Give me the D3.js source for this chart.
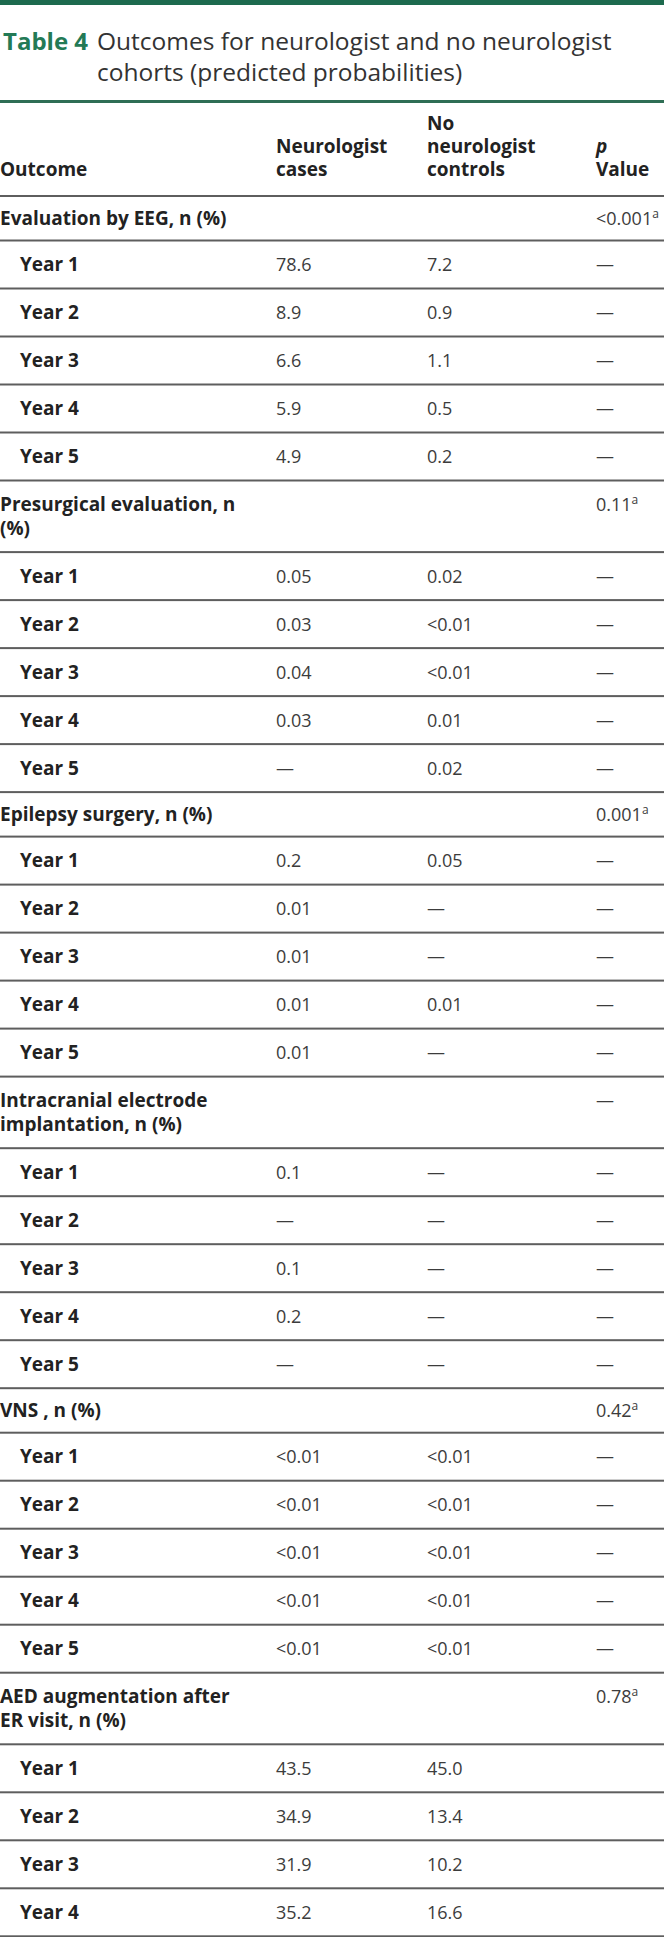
<!DOCTYPE html>
<html lang="en">
<head>
	<meta charset="utf-8">
	<title>Table 4</title>
	<script src="https://cdn.jsdelivr.net/npm/d3@7"></script>
	<style>
		body { margin: 0; background: #fff; }
		text { font-family: "Open Sans", sans-serif; }
		.head { font-weight: 700; fill: #222; font-size: 19px; }
		.cell { fill: #3c3c3c; font-size: 18px; }
		.rule { fill: #5e5e5e; }
	</style>
</head>
<body>
	<div id="chart"></div>
	<script>
		// table content
		var outcomeLabels = [
			["Evaluation by EEG, n (%)"],
			["Presurgical evaluation, n", "(%)"],
			["Epilepsy surgery, n (%)"],
			["Intracranial electrode", "implantation, n (%)"],
			["VNS , n (%)"],
			["AED augmentation after", "ER visit, n (%)"]
		];
		var outcomeP = ["<0.001", "0.11", "0.001", "—", "0.42", "0.78"];
		var outcomePNote = ["a", "a", "a", "", "a", "a"];
		var years = ["Year 1", "Year 2", "Year 3", "Year 4", "Year 5"];
		var neurologistCases = [
			["78.6", "8.9", "6.6", "5.9", "4.9"],
			["0.05", "0.03", "0.04", "0.03", "—"],
			["0.2", "0.01", "0.01", "0.01", "0.01"],
			["0.1", "—", "0.1", "0.2", "—"],
			["<0.01", "<0.01", "<0.01", "<0.01", "<0.01"],
			["43.5", "34.9", "31.9", "35.2"]
		];
		var noNeurologistControls = [
			["7.2", "0.9", "1.1", "0.5", "0.2"],
			["0.02", "<0.01", "<0.01", "0.01", "0.02"],
			["0.05", "—", "—", "0.01", "—"],
			["—", "—", "—", "—", "—"],
			["<0.01", "<0.01", "<0.01", "<0.01", "<0.01"],
			["45.0", "13.4", "10.2", "16.6"]
		];
		var yearP = ["—", "—", "—", "—", "—", ""];
		var headerLines = [
			["", "", "No", ""],
			["", "Neurologist", "neurologist", "p"],
			["Outcome", "cases", "controls", "Value"]
		];

		var width = 664,
		    height = 1937;

		var svg = d3.select("#chart")
				.append("svg")
				.attr("width", width)
				.attr("height", height);

		var x = d3.scaleOrdinal()
				.domain([0, 1, 2, 3])
				.range([0, 276, 427, 596]);

		// top bar + title
		svg.append("rect").attr("x", 0).attr("y", 0).attr("width", width).attr("height", 5).attr("fill", "#1d6a4e");

		svg.append("text")
			.attr("x", 3).attr("y", 50)
			.attr("font-size", 24).attr("font-weight", 700).attr("fill", "#237a56")
			.text("Table 4");
		svg.selectAll(".title")
			.data(["Outcomes for neurologist and no neurologist", "cohorts (predicted probabilities)"])
			.enter().append("text")
			.attr("x", 97)
			.attr("y", function(d, i) { return 50 + i * 31; })
			.attr("font-size", 24.5).attr("fill", "#333")
			.text(function(d) { return d; });

		svg.append("rect").attr("x", 0).attr("y", 100).attr("width", width).attr("height", 3).attr("fill", "#2f6e55");

		// column headers
		headerLines.forEach(function(line, i) {
			svg.selectAll(null)
				.data(line)
				.enter().append("text")
				.attr("class", "head")
				.attr("x", function(d, j) { return x(j); })
				.attr("y", 130 + i * 22.8)
				.attr("font-style", function(d) { return d == "p" ? "italic" : null; })
				.text(function(d) { return d; });
		});

		// flatten rows
		var rows = [];
		outcomeLabels.forEach(function(label, g) {
			rows.push({type: "group", label: label, cells: ["", ""], p: outcomeP[g], note: outcomePNote[g],
				h: label.length > 1 ? 71.6 : 44.5});
			neurologistCases[g].forEach(function(v, k) {
				rows.push({type: "year", label: [years[k]], cells: [v, noNeurologistControls[g][k]], p: yearP[g], note: "", h: 48});
			});
		});

		var y0 = 196;
		rows.forEach(function(r) { r.y0 = y0; y0 += r.h; r.y1 = y0; });

		svg.append("rect").attr("class", "rule").attr("x", 0).attr("y", 195).attr("width", width).attr("height", 2);

		var row = svg.selectAll(".row")
				.data(rows)
				.enter().append("g")
				.attr("class", "row");

		row.append("rect")
			.attr("class", "rule")
			.attr("x", 0).attr("width", width)
			.attr("y", function(d) { return d.y1 - 1; })
			.attr("height", 2);

		function firstBase(d) {
			return (d.y0 + d.y1) / 2 + 6.6 - (d.label.length - 1) * 12.3;
		}

		row.each(function(d) {
			var gr = d3.select(this);
			d.label.forEach(function(t, i) {
				gr.append("text")
					.attr("class", "head")
					.attr("x", d.type == "year" ? 20 : 0)
					.attr("y", firstBase(d) + i * 24.6)
					.text(t);
			});
			d.cells.forEach(function(t, j) {
				gr.append("text")
					.attr("class", "cell")
					.attr("x", x(j + 1))
					.attr("y", firstBase(d))
					.text(t);
			});
			var pt = gr.append("text")
					.attr("class", "cell")
					.attr("x", x(3))
					.attr("y", firstBase(d))
					.text(d.p);
			if (d.note) {
				pt.append("tspan")
					.attr("font-size", 12)
					.attr("dy", -7)
					.text(d.note);
			}
		});
	</script>
</body>
</html>
